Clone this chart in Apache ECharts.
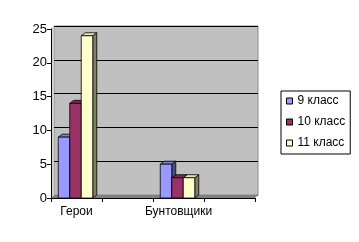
<!DOCTYPE html>
<html><head><meta charset="utf-8">
<script src="https://cdn.jsdelivr.net/npm/echarts@6/dist/echarts.min.js"></script>
<style>html,body{margin:0;padding:0;background:#fff}#c{width:359px;height:242px}</style>
</head><body><div id="c"></div>
<script>
const categories = ['Герои', 'Бунтовщики'];
const seriesNames = ['9 класс', '10 класс', '11 класс'];
const values9 = [9, 5];
const values10 = [14, 3];
const values11 = [24, 3];
const yTicks = [0, 5, 10, 15, 20, 25];

const palette = [
  {front: '#9999FF', top: '#7F7FD9', side: '#4D4D80'},
  {front: '#993366', top: '#7F2A55', side: '#4D1A33'},
  {front: '#FFFFCC', top: '#E6E6B8', side: '#808066'}
];
const allValues = [values9, values10, values11];
// each category occupies a slot followed by an empty slot (as in the original sheet)
const axisSlots = categories.flatMap(c => [c, '']);

const G = {left: 51, right: 104, top: 29, bottom: 44};
const D = {dx: 3, dy: -3};
const BW = 11.5;

function makeRender(k) {
  return function (params, api) {
    const x = api.value(0), v = api.value(1);
    const base = api.coord([x, 0]);
    const top = api.coord([x, v]);
    const cx = base[0] + (k - 1) * BW - 1;
    const l = cx - BW / 2, r = l + BW;
    const t = top[1], b = base[1];
    const dx = 4, dy = -3;
    const st = {stroke: '#000', lineWidth: 0.8};
    const p = palette[k];
    return {
      type: 'group',
      children: [
        {type: 'polygon', shape: {points: [[r, t], [r + dx, t + dy], [r + dx, b + dy], [r, b]]},
          style: Object.assign({fill: p.side}, st)},
        {type: 'polygon', shape: {points: [[l, t], [l + dx, t + dy], [r + dx, t + dy], [r, t]]},
          style: Object.assign({fill: p.top}, st)},
        {type: 'rect', shape: {x: l, y: t, width: BW, height: b - t},
          style: Object.assign({fill: p.front}, st)}
      ]
    };
  };
}

const chart = echarts.init(document.getElementById('c'), null, {renderer: 'canvas'});
const W = 359, H = 242;
const fx0 = G.left, fx1 = W - G.right, fy0 = G.top, fy1 = H - G.bottom;

chart.setOption({
  animation: false,
  backgroundColor: '#fff',
  textStyle: {fontFamily: 'Liberation Sans, Arial, sans-serif'},
  grid: [
    {left: G.left, right: G.right, top: G.top, bottom: G.bottom, show: false},
    {left: G.left + D.dx, right: G.right - D.dx, top: G.top + D.dy, bottom: G.bottom - D.dy,
      show: true, backgroundColor: '#C0C0C0', borderColor: '#8A8A8A', borderWidth: 1, z: 0}
  ],
  xAxis: [
    {type: 'category', gridIndex: 0, data: axisSlots, boundaryGap: true,
      axisLine: {lineStyle: {color: '#000', width: 1}},
      axisTick: {show: true, length: 4, lineStyle: {color: '#000'}},
      axisLabel: {interval: 0, color: '#000', fontSize: 12, margin: 8}, z: 5},
    {type: 'category', gridIndex: 1, data: axisSlots, show: false}
  ],
  yAxis: [
    {type: 'value', gridIndex: 0, min: 0, max: 25, interval: 5,
      axisLine: {show: true, lineStyle: {color: '#000', width: 1}},
      axisTick: {show: true, length: 4, lineStyle: {color: '#000'}},
      axisLabel: {color: '#000', fontSize: 13, margin: 4,
        formatter: v => yTicks.includes(v) ? String(v) : ''},
      splitLine: {show: false}, z: 5},
    {type: 'value', gridIndex: 1, min: 0, max: 25, interval: 5,
      axisLine: {show: false}, axisTick: {show: false}, axisLabel: {show: false},
      splitLine: {show: true, lineStyle: {color: '#000', width: 1}}}
  ],
  legend: {
    orient: 'vertical', left: 281, top: 91,
    data: seriesNames,
    icon: 'rect', itemWidth: 6, itemHeight: 6, itemGap: 9,
    padding: [4, 5, 5, 5],
    borderColor: '#000', borderWidth: 1,
    itemStyle: {borderColor: '#000', borderWidth: 1},
    textStyle: {fontSize: 12, color: '#000'}
  },
  graphic: [
    {type: 'polygon', z: 1, shape: {points: [[fx0, fy1], [fx0 + D.dx, fy1 + D.dy], [fx1 + D.dx, fy1 + D.dy], [fx1, fy1]]},
      style: {fill: '#808080'}},
    {type: 'polygon', z: 1, shape: {points: [[fx0, fy0], [fx0 + D.dx, fy0 + D.dy], [fx0 + D.dx, fy1 + D.dy], [fx0, fy1]]},
      style: {fill: '#D0D0D0'}}
  ],
  series: seriesNames.map((name, k) => ({
    name: name, type: 'custom', xAxisIndex: 0, yAxisIndex: 0, z: 3,
    itemStyle: {color: palette[k].front},
    renderItem: makeRender(k),
    data: allValues[k].map((v, i) => [2 * i, v])
  }))
});
</script></body></html>
